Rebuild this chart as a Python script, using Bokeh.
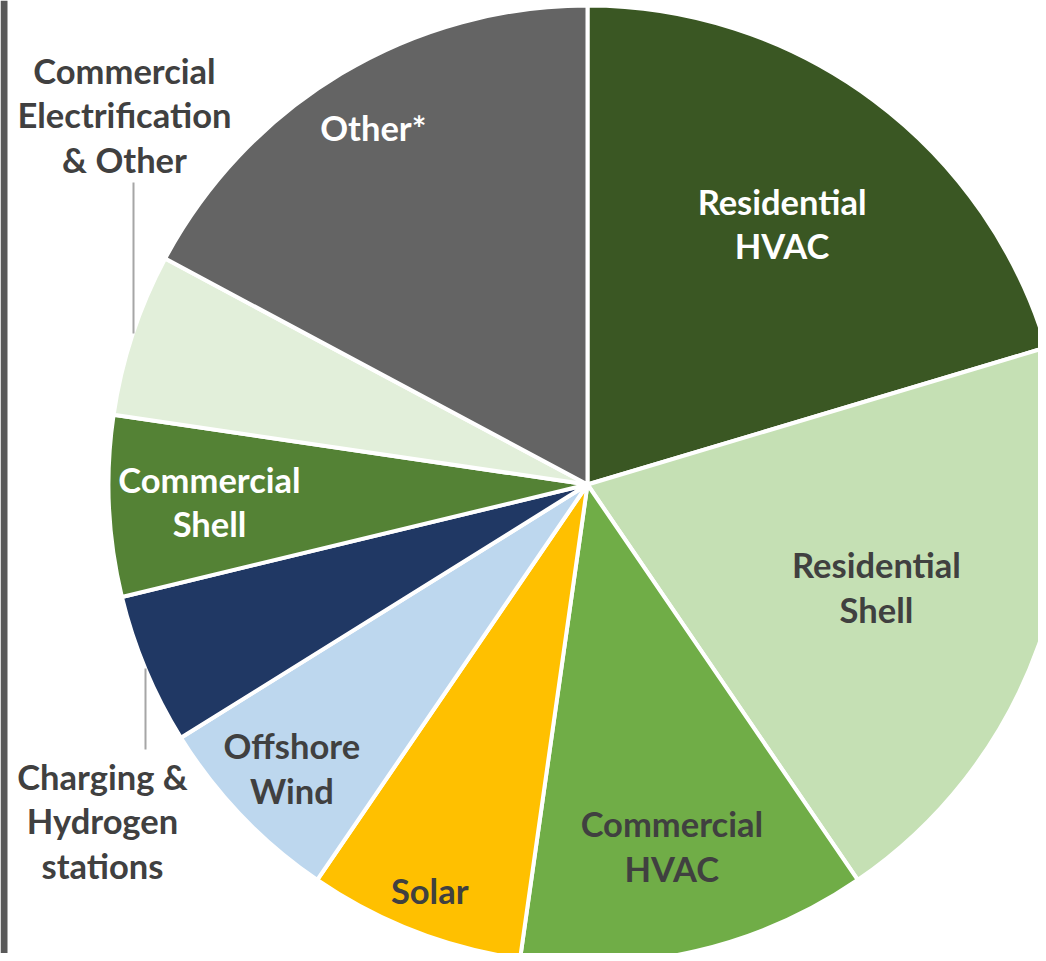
import math
from bokeh.plotting import figure
from bokeh.models import Range1d
from bokeh.core.properties import value
from bokeh.embed import file_html
from bokeh.resources import INLINE

# ---- data (share of total, %) ----
categories = ["Residential HVAC", "Residential Shell", "Commercial HVAC", "Solar",
              "Offshore Wind", "Charging & Hydrogen stations", "Commercial Shell",
              "Commercial Electrification & Other", "Other*"]
shares = [20.4, 20.1, 11.8, 7.3, 6.6, 5.1, 6.1, 5.5, 17.2]
colors = ["#3A5723", "#C5E0B4", "#70AD47", "#FFC000", "#BDD7EE", "#203864",
          "#548235", "#E2EFDA", "#646464"]
label_lines = [["Residential", "HVAC"], ["Residential", "Shell"], ["Commercial", "HVAC"],
               ["Solar"], ["Offshore", "Wind"], ["Charging &", "Hydrogen", "stations"],
               ["Commercial", "Shell"], ["Commercial", "Electrification", "& Other"], ["Other*"]]
label_colors = ["white", "#404040", "#404040", "#404040", "#404040", "#404040",
                "white", "#404040", "white"]
# radial position of in-slice labels (fraction of radius); None = outside label
label_r = [0.68, 0.64, 0.775, 0.91, 0.855, None, 0.79, None, 0.87]

W, H = 1038, 953
p = figure(width=W, height=H, output_backend="svg", toolbar_location=None,
           x_range=Range1d(0, W), y_range=Range1d(961 - H, 961), min_border=0)
p.axis.visible = False
p.grid.visible = False
p.outline_line_color = None
p.background_fill_color = "white"

# dark strip at the left edge
p.quad(left=[0], right=[7], bottom=[0], top=[961], fill_color="#595959", line_color=None)

cx, cy, R = 587, 961 - 484, 479
total = sum(shares)
cum = 0.0
starts, ends, mids = [], [], []
for s in shares:
    a0 = math.pi / 2 - 2 * math.pi * (cum + s) / total
    a1 = math.pi / 2 - 2 * math.pi * cum / total
    starts.append(a0)
    ends.append(a1)
    mids.append((a0 + a1) / 2)
    cum += s

p.wedge(x=[cx] * len(shares), y=[cy] * len(shares), radius=R,
        start_angle=starts, end_angle=ends, fill_color=colors,
        line_color="white", line_width=4)

FS = "34.5px"
LH = 44.5

def draw_lines(x, y, lines, color):
    n = len(lines)
    for i, t in enumerate(lines):
        yy = y + (n - 1) / 2 * LH - i * LH
        p.text(x=[x], y=[yy], text=[t], text_font=value("Lato"), text_font_style="bold",
               text_font_size=FS, text_color=color, text_align="center",
               text_baseline="middle")

for i, lines in enumerate(label_lines):
    if label_r[i] is None:
        continue
    r = label_r[i] * R
    draw_lines(cx + r * math.cos(mids[i]), cy + r * math.sin(mids[i]), lines, label_colors[i])

# outside labels with leader lines
draw_lines(124, 961 - 114, label_lines[7], label_colors[7])
p.segment(x0=[133], y0=[961 - 182], x1=[133], y1=[961 - 333], line_color="#A6A6A6", line_width=2)
draw_lines(102, 961 - 820, label_lines[5], label_colors[5])
p.segment(x0=[145], y0=[961 - 668], x1=[145], y1=[961 - 749], line_color="#A6A6A6", line_width=2)

open("out.html", "w").write(file_html(p, INLINE))
